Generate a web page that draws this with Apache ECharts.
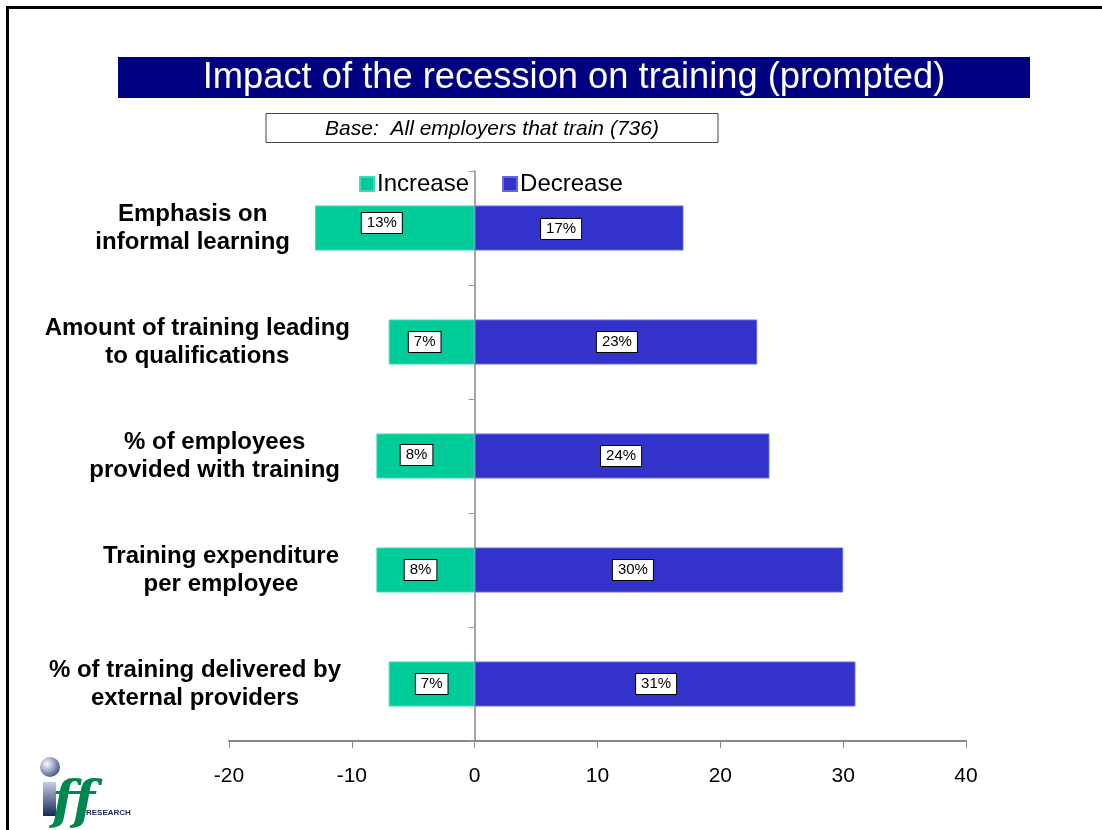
<!DOCTYPE html>
<html>
<head>
<meta charset="utf-8">
<script src="https://cdn.jsdelivr.net/npm/echarts@6/dist/echarts.min.js"></script>
<style>
html,body{margin:0;padding:0;background:#fff;}
#chart{width:1102px;height:830px;}
</style>
</head>
<body>
<div id="chart"></div>
<script>
// ---- Data ----
const categories = [
  'Emphasis on\ninformal learning',
  'Amount of training leading\nto qualifications',
  '% of employees\nprovided with training',
  'Training expenditure\nper employee',
  '% of training delivered by\nexternal providers'
];
const increaseValues = [13, 7, 8, 8, 7];
const decreaseValues = [17, 23, 24, 30, 31];
const seriesNames = ['Increase', 'Decrease'];
const xTicks = { min: -20, max: 40, interval: 10 };
const titleText = 'Impact of the recession on training (prompted)';
const baseText = 'Base:  All employers that train (736)';

// ---- Styling helpers (label placement tweaks, not data) ----
const catLabelPadRight = [60, 0, 10, 11, 9];
const incLabelNudge = [[-13, -5], [-7, 0], [-9, -1], [-5, 0], [0, 0]];
const decLabelNudge = [[-18, 1], [1, 0], [-1, 0], [-26, 0], [-9, 0]];

const chart = echarts.init(document.getElementById('chart'));

const FONT = 'Liberation Sans, Arial, sans-serif';
const labelFont = { fontSize: 24, fontWeight: 'bold', color: '#000', lineHeight: 28, fontFamily: FONT };

const yData = categories.map((c, i) => ({
  value: c,
  textStyle: { padding: [0, catLabelPadRight[i], 0, 0] }
}));

const barLabel = {
  show: true,
  position: 'inside',
  formatter: p => Math.abs(p.value) + '%',
  color: '#000',
  fontFamily: FONT,
  fontSize: 15,
  backgroundColor: '#fff',
  borderColor: '#000',
  borderWidth: 1,
  padding: [3, 5, 2, 5]
};

function withNudge(values, nudges, sign) {
  return values.map((v, i) => ({
    value: sign * v,
    label: { offset: nudges[i] }
  }));
}

const option = {
  animation: false,
  backgroundColor: '#fff',
  textStyle: { fontFamily: FONT },
  legend: {
    data: seriesNames,
    left: 354,
    top: 167,
    icon: 'rect',
    itemWidth: 14,
    itemHeight: 14,
    itemGap: 33,
    textStyle: { fontSize: 24, color: '#000', fontFamily: FONT, padding: [0, 0, 0, -2] }
  },
  grid: { left: 229, right: 136, top: 171, bottom: 89, containLabel: false, outerBoundsMode: 'none' },
  xAxis: {
    type: 'value',
    min: xTicks.min,
    max: xTicks.max,
    interval: xTicks.interval,
    splitLine: { show: false },
    axisLine: { show: true, lineStyle: { color: '#888', width: 2 } },
    axisTick: { show: true, length: 7, lineStyle: { color: '#888', width: 1 } },
    axisLabel: { fontSize: 21, color: '#000', margin: 25, fontFamily: FONT }
  },
  yAxis: {
    type: 'category',
    data: yData,
    inverse: true,
    axisLine: { show: true, onZero: true, lineStyle: { color: '#888', width: 1.5 } },
    axisTick: { show: true, length: 6, lineStyle: { color: '#999', width: 1 } },
    axisLabel: Object.assign({
      margin: -121,
      align: 'right',
      formatter: v => v.split('\n').map(l => '{c|' + l + '}').join('\n'),
      rich: { c: Object.assign({ align: 'center' }, labelFont) }
    }, labelFont)
  },
  series: [
    {
      name: seriesNames[0],
      type: 'bar',
      stack: 'total',
      barWidth: 45,
      itemStyle: { color: '#00CC99', borderColor: '#40d9b3', borderWidth: 1 },
      label: barLabel,
      data: withNudge(increaseValues, incLabelNudge, -1)
    },
    {
      name: seriesNames[1],
      type: 'bar',
      stack: 'total',
      barWidth: 45,
      itemStyle: { color: '#3333CC', borderColor: '#6666dd', borderWidth: 1 },
      label: barLabel,
      data: withNudge(decreaseValues, decLabelNudge, 1)
    }
  ],
  graphic: [
    { type: 'rect', shape: { x: 6, y: 6, width: 1102, height: 3 }, style: { fill: '#000' }, z: 100 },
    { type: 'rect', shape: { x: 6, y: 6, width: 3, height: 830 }, style: { fill: '#000' }, z: 100 },
    { type: 'rect', shape: { x: 118, y: 57, width: 912, height: 41 }, style: { fill: '#000080' }, z: 100 },
    { type: 'text', x: 574, y: 78, style: { text: titleText, fill: '#fff', font: '36.3px "Liberation Sans", Arial, sans-serif', textAlign: 'center', textVerticalAlign: 'middle' }, z: 101 },
    { type: 'rect', shape: { x: 266, y: 113.5, width: 452, height: 29 }, style: { fill: '#fff', stroke: '#444', lineWidth: 1 }, z: 100 },
    { type: 'text', x: 492, y: 129, style: { text: baseText, fill: '#000', font: 'italic 21px "Liberation Sans", Arial, sans-serif', textAlign: 'center', textVerticalAlign: 'middle' }, z: 101 },
    { type: 'rect', shape: { x: 43, y: 782, width: 13, height: 34 },
      style: { fill: new echarts.graphic.LinearGradient(0, 0, 0, 1, [{ offset: 0, color: '#c8cde0' }, { offset: 1, color: '#14285a' }]) }, z: 100 },
    { type: 'circle', shape: { cx: 50, cy: 767, r: 10 },
      style: { fill: new echarts.graphic.RadialGradient(0.35, 0.35, 0.8, [{ offset: 0, color: '#ffffff' }, { offset: 1, color: '#2a3c78' }]) }, z: 100 },
    { type: 'text', x: 52, y: 778, style: { text: 'ff', fill: '#00874f', font: 'italic bold 52px "DejaVu Serif", serif', textAlign: 'left', textVerticalAlign: 'top' }, z: 100 },
    { type: 'text', x: 86, y: 813, style: { text: 'RESEARCH', fill: '#1a2a60', font: 'bold 8px "Liberation Sans", Arial, sans-serif', textAlign: 'left', textVerticalAlign: 'middle' }, z: 101 }
  ]
};

chart.setOption(option);
</script>
</body>
</html>
